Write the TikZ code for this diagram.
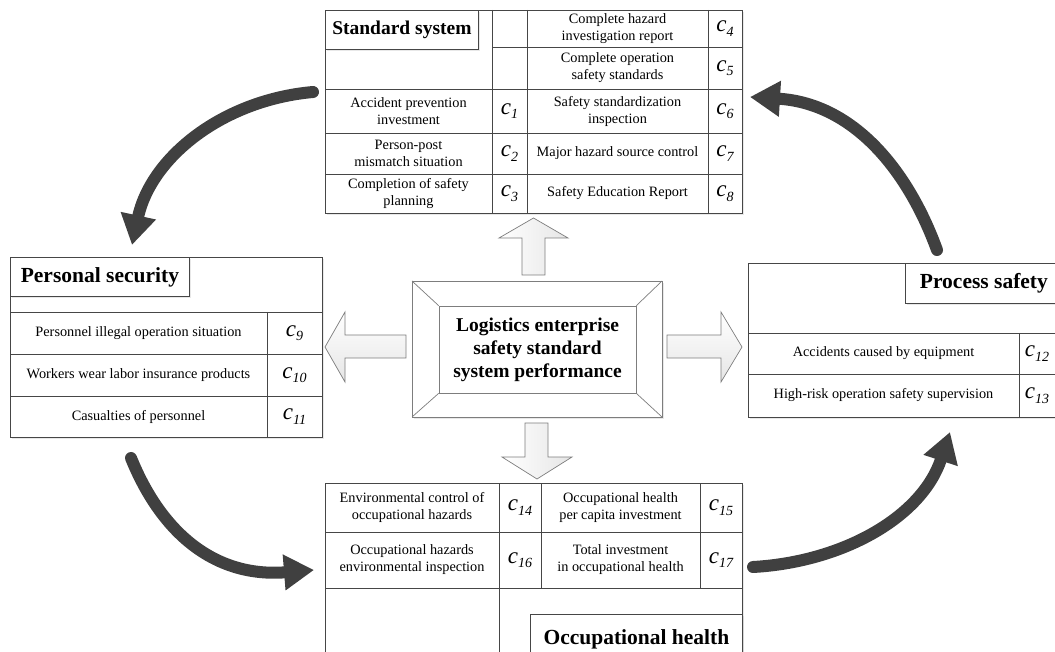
\documentclass[tikz,border=0pt]{standalone}
\usepackage{fontspec}
\setmainfont{Liberation Serif}
\usetikzlibrary{arrows.meta, shadows, positioning}
\definecolor{FrameGray}{RGB}{70,70,70}
\definecolor{ArrowDark}{RGB}{64,64,64}
\definecolor{BlockGray}{RGB}{125,125,125}
\newcommand{\cl}[1]{{\fontsize{23}{23}\selectfont\itshape c}{\fontsize{14}{14}\selectfont\itshape\raisebox{-4.5pt}{#1}}}

\begin{document}
\begin{tikzpicture}[x=1pt, y=-1pt,
	frame/.style={draw=FrameGray, line width=0.8pt},
	shade/.style={drop shadow={opacity=0.18, shadow xshift=2pt, shadow yshift=-2pt}},
	cell/.style={align=center, inner sep=0pt, font=\fontsize{14.3}{17}\selectfont},
	tag/.style={inner sep=0pt},
	title/.style={frame, shade, fill=white, inner sep=0pt, font=\fontsize{21.5}{25}\selectfont\bfseries},
	blk/.style={draw=BlockGray, line width=0.7pt},
	cyclearrow/.style={draw=ArrowDark, line width=12pt, line cap=round, -{Triangle[length=30pt, width=34pt]}}]

	\useasboundingbox (0,0) rectangle (1055,652);
	\clip (0,0) rectangle (1055,652);

	% standard system
	\draw[frame, shade, fill=white] (325,10) rectangle (742,213);
	\draw[frame] (492,10) -- (492,213) (527,10) -- (527,213) (708,10) -- (708,213);
	\draw[frame] (492,47) -- (742,47);
	\foreach \y in {89,133,174} \draw[frame] (325,\y) -- (742,\y);
	\node[title, font=\fontsize{19.5}{23}\selectfont\bfseries, minimum width=153, minimum height=39, anchor=north west] (stdT) at (325,10) {Standard system};
	\foreach \n/\y/\txt in {1/111/{Accident prevention\\investment}, 2/153.5/{Person-post\\mismatch situation},
		3/193.5/{Completion of safety\\planning}}{
		\node[cell] (sl\n) at (408.5,\y) {\txt};
		\node[tag] (slc\n) at (509.5,\y) {\cl{\n}};}
	\foreach \n/\y/\txt in {4/28.5/{Complete hazard\\investigation report}, 5/68/{Complete operation\\safety standards},
		6/111/{Safety standardization\\inspection}, 7/153.5/{Major hazard source control}, 8/193.5/{Safety Education Report}}{
		\node[cell] (sr\n) at (617.5,\y) {\txt};
		\node[tag] (src\n) at (725,\y) {\cl{\n}};}

	% personal security
	\draw[frame, shade, fill=white] (10,257) rectangle (322,437);
	\draw[frame] (267,312) -- (267,437);
	\foreach \y in {312,354,396} \draw[frame] (10,\y) -- (322,\y);
	\node[title, minimum width=179, minimum height=39, anchor=north west] (psT) at (10,257) {Personal security};
	\foreach \n/\y/\txt in {9/333/{Personnel illegal operation situation}, 10/375/{Workers wear labor insurance products},
		11/416.5/{Casualties of personnel}}{
		\node[cell] (p\n) at (138.5,\y) {\txt};
		\node[tag] (pc\n) at (294.5,\y) {\cl{\n}};}

	% process safety
	\draw[frame, shade, fill=white] (748,263) rectangle (1062,417);
	\draw[frame] (1019,333) -- (1019,417);
	\foreach \y in {333,374} \draw[frame] (748,\y) -- (1062,\y);
	\node[title, minimum width=157, minimum height=40, anchor=north west] (prT) at (905,263) {Process safety};
	\foreach \n/\y/\txt in {12/353.5/{Accidents caused by equipment}, 13/395.5/{High-risk operation safety supervision}}{
		\node[cell] (q\n) at (883.5,\y) {\txt};
		\node[tag] (qc\n) at (1037,\y) {\cl{\n}};}

	% occupational health
	\draw[frame, shade, fill=white] (325,483) rectangle (742,670);
	\draw[frame] (499,483) -- (499,670);
	\draw[frame] (541,483) -- (541,588) (700,483) -- (700,588);
	\foreach \y in {532,588} \draw[frame] (325,\y) -- (742,\y);
	\node[title, minimum width=212, minimum height=50, anchor=north west] (ohT) at (530,614) {Occupational health};
	\foreach \n/\m/\y/\txt/\ttx in {14/15/507.5/{Environmental control of\\occupational hazards}/{Occupational health\\per capita investment},
		16/17/560/{Occupational hazards\\environmental inspection}/{Total investment\\in occupational health}}{
		\node[cell] (o\n) at (412,\y) {\txt};
		\node[tag] (oc\n) at (520,\y) {\cl{\n}};
		\node[cell] (o\m) at (620.5,\y) {\ttx};
		\node[tag] (oc\m) at (721,\y) {\cl{\m}};}

	% centre
	\draw[blk, shade, fill=white] (412,281) rectangle (662,417);
	\node[blk, minimum width=197, minimum height=87, align=center,
		font=\fontsize{19.5}{23}\selectfont\bfseries] (core) at (537.5,349.5)
		{Logistics enterprise\\safety standard\\system performance};
	\draw[blk] (412,281) -- (core.north west) (662,281) -- (core.north east)
		(412,417) -- (core.south west) (662,417) -- (core.south east);

	% block arrows
	\draw[blk, left color=white, right color=gray!20] (522,275) -- (522,238) -- (499,238) -- (533.5,218)
		-- (568,238) -- (545,238) -- (545,275) -- cycle;
	\draw[blk, left color=white, right color=gray!20] (525,423) -- (525,457) -- (502,457) -- (537,479)
		-- (572,457) -- (548,457) -- (548,423) -- cycle;
	\draw[blk, top color=white, bottom color=gray!20] (406,335) -- (345,335) -- (345,312) -- (325,347)
		-- (345,382) -- (345,358) -- (406,358) -- cycle;
	\draw[blk, top color=white, bottom color=gray!20] (667,335) -- (721,335) -- (721,312) -- (742,347)
		-- (721,382) -- (721,358) -- (667,358) -- cycle;

	% cycle arrows
	\coordinate (stdOut) at (313,92);   \coordinate (psIn) at (132,245);
	\coordinate (psOut) at (131,458);   \coordinate (ohIn) at (314,570);
	\coordinate (ohOut) at (753,567);   \coordinate (prIn) at (950,432);
	\coordinate (prOut) at (937,250);   \coordinate (stdIn) at (750,97);
	\draw[cyclearrow] (stdOut) .. controls (223,100) and (151,157) .. (psIn);
	\draw[cyclearrow] (psOut) .. controls (161,532) and (214,578) .. (ohIn);
	\draw[cyclearrow] (ohOut) .. controls (843,562) and (922,517) .. (prIn);
	\draw[cyclearrow] (prOut) .. controls (906,165) and (850,103) .. (stdIn);
\end{tikzpicture}
\end{document}
